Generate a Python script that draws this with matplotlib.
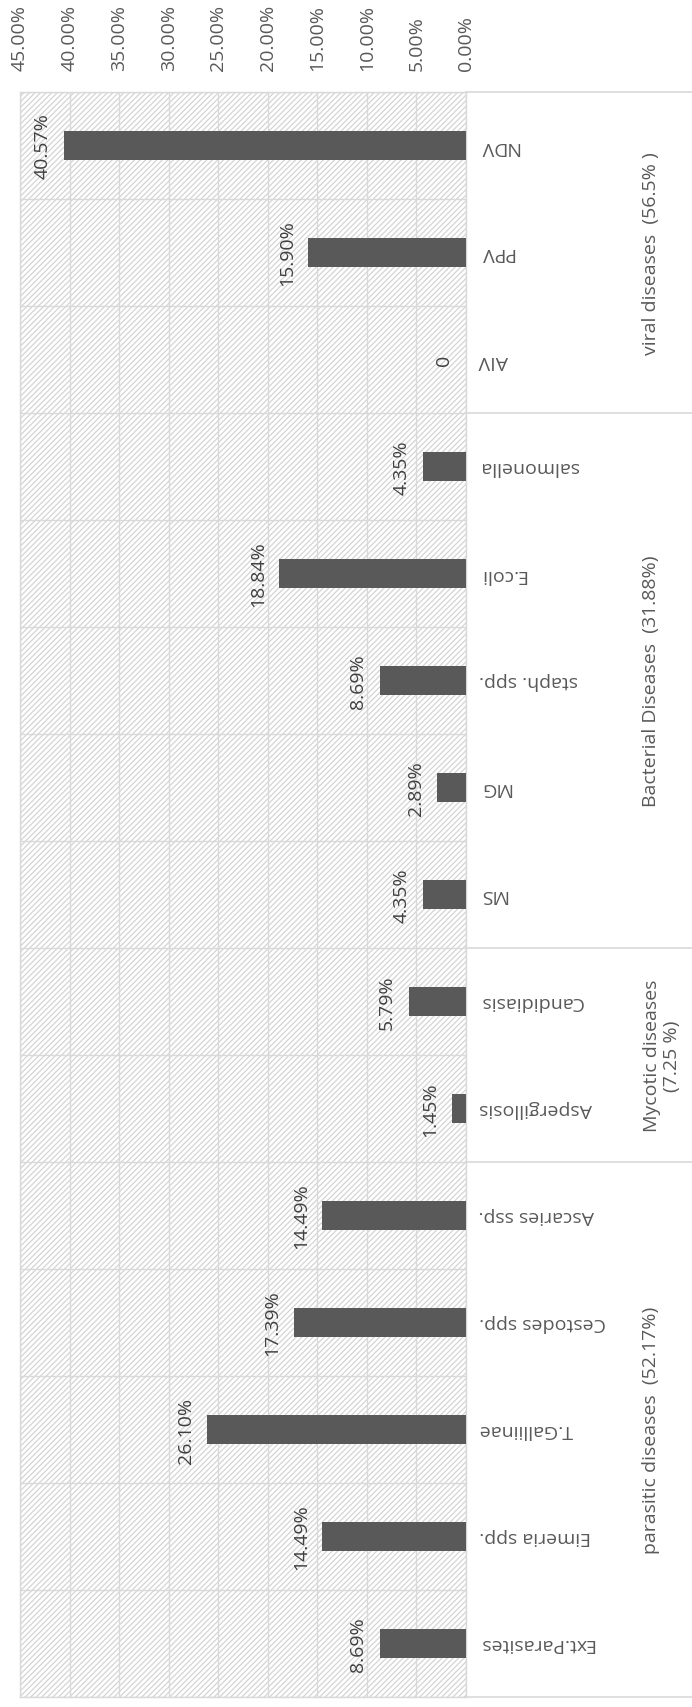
import matplotlib
matplotlib.use("Agg")
import matplotlib.pyplot as plt
from matplotlib.patches import Rectangle
import matplotlib.transforms as mtransforms

plt.rcParams['font.family'] = ['Open Sans', 'DejaVu Sans']
plt.rcParams['hatch.linewidth'] = 0.9

categories = ["NDV", "PPV", "AIV", "salmonella", "E.coli", "staph. spp.", "MG", "MS",
              "Candidiasis", "Aspergillosis", "Ascaries ssp.", "Cestodes spp.",
              "T.Galliinae", "Eimeria spp.", "Ext.Parasites"]
values = [40.57, 15.90, 0, 4.35, 18.84, 8.69, 2.89, 4.35, 5.79, 1.45, 14.49, 17.39, 26.10, 14.49, 8.69]
value_labels = ["40.57%", "15.90%", "0", "4.35%", "18.84%", "8.69%", "2.89%", "4.35%",
                "5.79%", "1.45%", "14.49%", "17.39%", "26.10%", "14.49%", "8.69%"]
groups = ["viral diseases  (56.5% )", "Bacterial Diseases  (31.88%)",
          "Mycotic diseases\n(7.25 %)", "parasitic diseases  (52.17%)"]
group_sizes = [3, 5, 2, 5]
xticks = [0, 5, 10, 15, 20, 25, 30, 35, 40, 45]

W, H = 692, 1708
fig = plt.figure(figsize=(W / 100, H / 100), dpi=100)
L, R, T, B = 20, 466, 93, 1698
ax = fig.add_axes([L / W, 1 - B / H, (R - L) / W, (B - T) / H])

text_color = '#595959'
grid_color = '#d9d9d9'
fs = 14

n = len(categories)
ypos = list(range(n))

# hatched background
bg = Rectangle((0, 0), 1, 1, transform=ax.transAxes, facecolor='white',
               edgecolor='#d4d4d4', hatch='//////', linewidth=0, zorder=0)
ax.add_patch(bg)

ax.barh(ypos, values, height=0.27, color='#595959', zorder=3)

ax.set_xlim(45, 0)
ax.set_ylim(n - 0.5, -0.5)
ax.set_xticks(xticks)
ax.set_xticklabels([f"{t:.2f}%" for t in xticks], rotation=90, color=text_color, fontsize=fs)
ax.xaxis.tick_top()
ax.tick_params(axis='x', length=0, pad=16)
ax.set_yticks([i + 0.5 for i in range(-1, n)], minor=False)
ax.set_yticklabels([])
ax.tick_params(axis='y', length=0)
ax.grid(True, color=grid_color, linewidth=1.0, zorder=1)
ax.set_axisbelow(True)
for s in ax.spines.values():
    s.set_color(grid_color)
    s.set_linewidth(1.0)

# value labels
for i, (v, lab) in enumerate(zip(values, value_labels)):
    ax.annotate(lab, xy=(v, i), xytext=(-9, 0), textcoords='offset points',
                rotation=90, ha='right', va='center', color='#404040', fontsize=fs, zorder=4)

trans = mtransforms.blended_transform_factory(ax.transAxes, ax.transData)
xr_end = (W - L) / (R - L)

# category labels (upside-down)
cat_x = (479 - L) / (R - L)
for i, c in enumerate(categories):
    ax.text(cat_x, i, c, transform=trans, rotation=180, ha='left', va='center',
            color=text_color, fontsize=fs)

# group separators & labels
bounds = [-0.5]
for g in group_sizes:
    bounds.append(bounds[-1] + g)
for b in bounds:
    ax.plot([1.0, xr_end], [b, b], transform=trans, color=grid_color, linewidth=1.2,
            clip_on=False, zorder=2)
for k, g in enumerate(groups):
    yc = (bounds[k] + bounds[k + 1]) / 2
    gx = (651 - L) / (R - L) if '\n' not in g else (662 - L) / (R - L)
    ax.text(gx, yc, g, transform=trans, rotation=90, ha='center', va='center',
            multialignment='center', color=text_color, fontsize=fs, linespacing=1.1)

fig.savefig('out.png', dpi=100)
